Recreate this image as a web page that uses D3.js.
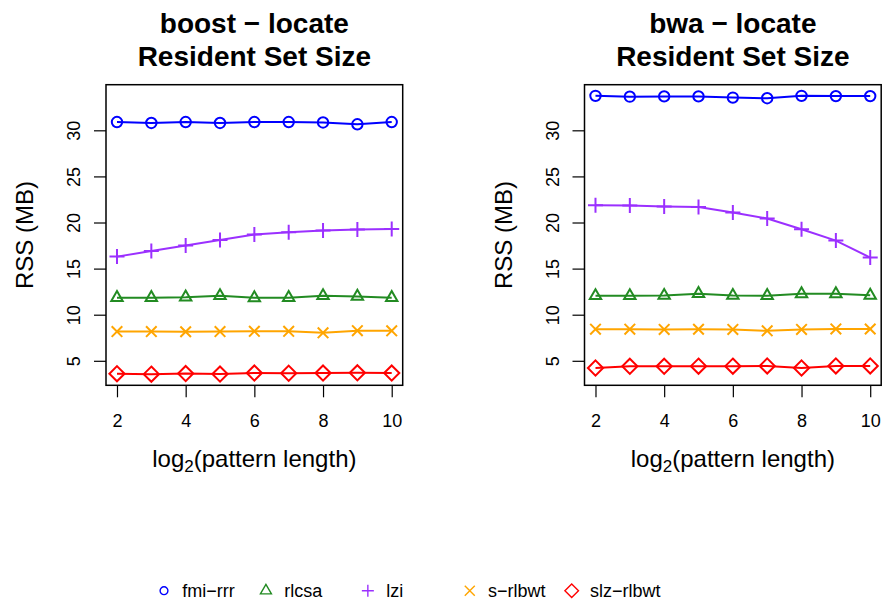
<!DOCTYPE html>
<html>
<head>
<meta charset="utf-8">
<script src="https://cdn.jsdelivr.net/npm/d3@7"></script>
<style>
  html, body { margin: 0; padding: 0; background: #fff; }
  svg { display: block; font-family: "Liberation Sans", Arial, Helvetica, sans-serif; }
</style>
</head>
<body>
<svg id="chart" width="883" height="602"></svg>
<script>
// log2(pattern length) on the x axis
const patternLog2 = [2, 3, 4, 5, 6, 7, 8, 9, 10];

const datasets = ["boost", "bwa"];
const methods = ["fmi\u2212rrr", "rlcsa", "lzi", "s\u2212rlbwt", "slz\u2212rlbwt"];

// Resident set size (MB) per method, boost dataset
const boostFmiRrr   = [30.9, 30.8, 30.9, 30.8, 30.9, 30.9, 30.85, 30.65, 30.9];
const boostRlcsa    = [11.85, 11.85, 11.9, 12.05, 11.83, 11.85, 12.05, 11.98, 11.85];
const boostLzi      = [16.3, 16.9, 17.5, 18.1, 18.7, 18.95, 19.12, 19.23, 19.3];
const boostSRlbwt   = [8.17, 8.17, 8.15, 8.17, 8.2, 8.2, 8.03, 8.27, 8.25];
const boostSlzRlbwt = [3.6, 3.55, 3.62, 3.56, 3.67, 3.65, 3.67, 3.7, 3.67];

// Resident set size (MB) per method, bwa dataset
const bwaFmiRrr   = [33.74, 33.65, 33.68, 33.68, 33.55, 33.48, 33.74, 33.71, 33.71];
const bwaRlcsa    = [12.05, 12.05, 12.08, 12.28, 12.08, 12.06, 12.26, 12.26, 12.1];
const bwaLzi      = [21.87, 21.84, 21.73, 21.69, 21.08, 20.43, 19.27, 18.04, 16.2];
const bwaSRlbwt   = [8.43, 8.43, 8.4, 8.42, 8.4, 8.25, 8.4, 8.46, 8.45];
const bwaSlzRlbwt = [4.22, 4.4, 4.4, 4.42, 4.42, 4.44, 4.22, 4.44, 4.44];

const xTicks = [2, 4, 6, 8, 10];
const yTicks = [5, 10, 15, 20, 25, 30];

const seriesByDataset = {
  boost: [boostFmiRrr, boostRlcsa, boostLzi, boostSRlbwt, boostSlzRlbwt],
  bwa:   [bwaFmiRrr, bwaRlcsa, bwaLzi, bwaSRlbwt, bwaSlzRlbwt]
};

const colors = ["#0000FF", "#228B22", "#9B30FF", "#FFA500", "#FF0000"];
const shapes = ["circle", "triangle", "plus", "cross", "diamond"];

const svg = d3.select("#chart");

// plot region of one panel
const plot = { left: 106, right: 402.7, top: 84.7, bottom: 385.3 };
const panelShift = 478.5;

// R-style 4% padding on the data range
function pad(ext) {
  const d = (ext[1] - ext[0]) * 0.04;
  return [ext[0] - d, ext[1] + d];
}

const allValues = datasets.flatMap(k => seriesByDataset[k].flat());
const x = d3.scaleLinear().domain(pad(d3.extent(patternLog2))).range([plot.left, plot.right]);
const y = d3.scaleLinear().domain(pad(d3.extent(allValues))).range([plot.bottom, plot.top]);

// marker path generator, centred on (0,0)
function markerPath(shape, s) {
  const p = d3.path();
  if (shape === "circle") {
    p.moveTo(s.r, 0); p.arc(0, 0, s.r, 0, 2 * Math.PI);
  } else if (shape === "triangle") {
    p.moveTo(0, -s.tUp); p.lineTo(s.tHalf, s.tDown); p.lineTo(-s.tHalf, s.tDown); p.closePath();
  } else if (shape === "plus") {
    p.moveTo(-s.plus, 0); p.lineTo(s.plus, 0); p.moveTo(0, -s.plus); p.lineTo(0, s.plus);
  } else if (shape === "cross") {
    p.moveTo(-s.cross, -s.cross); p.lineTo(s.cross, s.cross);
    p.moveTo(-s.cross, s.cross); p.lineTo(s.cross, -s.cross);
  } else if (shape === "diamond") {
    p.moveTo(0, -s.dia); p.lineTo(s.dia, 0); p.lineTo(0, s.dia); p.lineTo(-s.dia, 0); p.closePath();
  }
  return p.toString();
}

const plotSize = { r: 5.2, tUp: 6.6, tDown: 3.3, tHalf: 5.7, plus: 7.5, cross: 5.3, dia: 7.6 };
const legendSize = { r: 3.9, tUp: 6.3, tDown: 3.2, tHalf: 5.5, plus: 6.0, cross: 5.0, dia: 6.8 };

datasets.forEach((name, pi) => {
  const g = svg.append("g").attr("transform", `translate(${pi * panelShift},0)`);
  const cx = (plot.left + plot.right) / 2;
  const cy = (plot.top + plot.bottom) / 2;

  // title
  const title = g.append("text")
    .attr("text-anchor", "middle")
    .attr("font-weight", "bold")
    .attr("font-size", 28);
  title.append("tspan").attr("x", cx).attr("y", 33.3).text(`${name} \u2212 locate`);
  title.append("tspan").attr("x", cx).attr("y", 65.7).text("Resident Set Size");

  // x axis
  const xAxis = g.append("g")
    .attr("transform", `translate(0,${plot.bottom})`)
    .call(d3.axisBottom(x).tickValues(xTicks).tickSize(12).tickPadding(0).tickFormat(d3.format("d")));
  xAxis.select(".domain").remove();
  xAxis.selectAll(".tick line").attr("stroke", "#000").attr("stroke-width", 1.2);
  xAxis.selectAll(".tick text")
    .attr("font-size", 18).attr("font-family", null).attr("fill", "#000")
    .attr("dy", null).attr("y", 427.3 - plot.bottom);

  // y axis with labels parallel to the axis
  const yAxis = g.append("g")
    .attr("transform", `translate(${plot.left},0)`)
    .call(d3.axisLeft(y).tickValues(yTicks).tickSize(12).tickFormat(d3.format("d")));
  yAxis.select(".domain").remove();
  yAxis.selectAll(".tick line").attr("stroke", "#000").attr("stroke-width", 1.2);
  yAxis.selectAll(".tick text")
    .attr("font-size", 18).attr("font-family", null).attr("fill", "#000")
    .attr("x", null).attr("dy", null)
    .attr("text-anchor", "middle")
    .attr("transform", `translate(${80 - plot.left},0) rotate(-90)`);

  // axis titles
  const xl = g.append("text")
    .attr("x", cx).attr("y", 466.7)
    .attr("text-anchor", "middle")
    .attr("font-size", 24);
  xl.append("tspan").text("log");
  xl.append("tspan").attr("font-size", 17).attr("dy", 5).text("2");
  xl.append("tspan").attr("dy", -5).text("(pattern length)");

  g.append("text")
    .attr("transform", `translate(33,${cy}) rotate(-90)`)
    .attr("text-anchor", "middle")
    .attr("font-size", 24)
    .text("RSS (MB)");

  // series: lines with overplotted markers
  const line = d3.line().x((d, i) => x(patternLog2[i])).y(d => y(d));
  seriesByDataset[name].forEach((vals, si) => {
    g.append("path")
      .attr("d", line(vals))
      .attr("fill", "none")
      .attr("stroke", colors[si])
      .attr("stroke-width", 2);
    g.selectAll(null)
      .data(vals)
      .join("path")
      .attr("transform", (d, i) => `translate(${x(patternLog2[i])},${y(d)})`)
      .attr("d", markerPath(shapes[si], plotSize))
      .attr("fill", "none")
      .attr("stroke", colors[si])
      .attr("stroke-width", 2);
  });

  // frame
  g.append("rect")
    .attr("x", plot.left).attr("y", plot.top)
    .attr("width", plot.right - plot.left).attr("height", plot.bottom - plot.top)
    .attr("fill", "none").attr("stroke", "#000").attr("stroke-width", 1.5);
});

// shared legend along the bottom
const legendX = d3.scalePoint().domain(methods).range([164, 571.7]);
const legend = svg.append("g").attr("transform", "translate(0,590.7)");
methods.forEach((m, i) => {
  const item = legend.append("g").attr("transform", `translate(${legendX(m)},0)`);
  item.append("path")
    .attr("d", markerPath(shapes[i], legendSize))
    .attr("fill", "none")
    .attr("stroke", colors[i])
    .attr("stroke-width", 1.4);
  item.append("text")
    .attr("x", 18.3).attr("y", 6.6)
    .attr("font-size", 18)
    .text(m);
});
</script>
</body>
</html>
